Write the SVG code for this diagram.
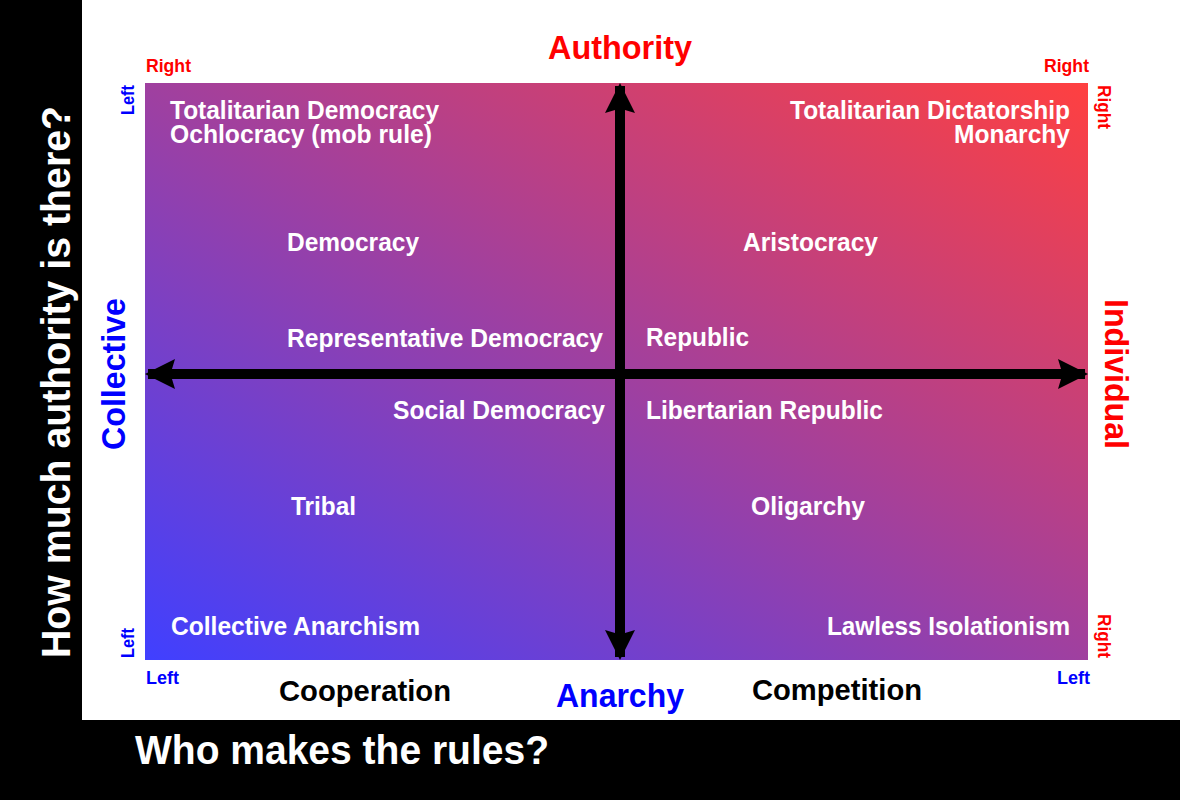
<svg xmlns="http://www.w3.org/2000/svg" width="1180" height="800" viewBox="0 0 1180 800">
<defs>
<linearGradient id="g" x1="0" y1="1" x2="1" y2="0">
<stop offset="0" stop-color="#4040ff"/><stop offset="1" stop-color="#ff4040"/>
</linearGradient>
<marker id="ah" viewBox="0 0 10 10" refX="9" refY="5" markerWidth="3" markerHeight="3.4" orient="auto-start-reverse" markerUnits="strokeWidth">
<path d="M0,0 L10,5 L0,10 L1.5,5 Z" fill="#000"/></marker>
<style>
text{font-family:"Liberation Sans",Arial,sans-serif;font-weight:bold}
.w{fill:#fff;font-size:26px}
.s{font-size:18px}
.r{fill:#f00}.b{fill:#00f}
</style>
</defs>
<rect width="1180" height="800" fill="#000"/>
<rect x="82" y="0" width="1098" height="720" fill="#fff"/>
<rect id="field" x="145" y="83" width="943" height="577" fill="url(#g)"/>
<g id="connectors" stroke="#000" stroke-width="10" fill="none">
<line x1="620" y1="86" x2="620" y2="657" marker-start="url(#ah)" marker-end="url(#ah)"/>
<line x1="148" y1="374" x2="1085" y2="374" marker-start="url(#ah)" marker-end="url(#ah)"/>
</g>
<g id="labels">
<text class="w" x="170" y="119" textLength="269" lengthAdjust="spacingAndGlyphs">Totalitarian Democracy</text>
<text class="w" x="170" y="143" textLength="262" lengthAdjust="spacingAndGlyphs">Ochlocracy (mob rule)</text>
<text class="w" x="1070" y="119" text-anchor="end" textLength="280" lengthAdjust="spacingAndGlyphs">Totalitarian Dictatorship</text>
<text class="w" x="1070" y="143" text-anchor="end" textLength="116" lengthAdjust="spacingAndGlyphs">Monarchy</text>
<text class="w" x="287" y="251" textLength="132" lengthAdjust="spacingAndGlyphs">Democracy</text>
<text class="w" x="743" y="251" textLength="135" lengthAdjust="spacingAndGlyphs">Aristocracy</text>
<text class="w" x="287" y="347" textLength="316" lengthAdjust="spacingAndGlyphs">Representative Democracy</text>
<text class="w" x="646" y="346" textLength="103" lengthAdjust="spacingAndGlyphs">Republic</text>
<text class="w" x="393" y="419" textLength="212" lengthAdjust="spacingAndGlyphs">Social Democracy</text>
<text class="w" x="646" y="419" textLength="237" lengthAdjust="spacingAndGlyphs">Libertarian Republic</text>
<text class="w" x="291" y="515" textLength="65" lengthAdjust="spacingAndGlyphs">Tribal</text>
<text class="w" x="751" y="515" textLength="114" lengthAdjust="spacingAndGlyphs">Oligarchy</text>
<text class="w" x="171" y="635" textLength="249" lengthAdjust="spacingAndGlyphs">Collective Anarchism</text>
<text class="w" x="1070" y="635" text-anchor="end" textLength="243" lengthAdjust="spacingAndGlyphs">Lawless Isolationism</text>
</g>
<g id="axes">
<text class="r" x="620" y="59" font-size="34" text-anchor="middle" textLength="144" lengthAdjust="spacingAndGlyphs">Authority</text>
<text class="b" x="620" y="707" font-size="34" text-anchor="middle" textLength="128" lengthAdjust="spacingAndGlyphs">Anarchy</text>
<text x="365" y="701" font-size="30" text-anchor="middle" textLength="172" lengthAdjust="spacingAndGlyphs">Cooperation</text>
<text x="837" y="700" font-size="30" text-anchor="middle" textLength="170" lengthAdjust="spacingAndGlyphs">Competition</text>
<text fill="#fff" x="135" y="764" font-size="40" textLength="414" lengthAdjust="spacingAndGlyphs">Who makes the rules?</text>
<text fill="#fff" font-size="40" transform="translate(70,382) rotate(-90)" text-anchor="middle" textLength="552" lengthAdjust="spacingAndGlyphs">How much authority is there?</text>
<text class="b" font-size="34" transform="translate(125,374) rotate(-90)" text-anchor="middle" textLength="152" lengthAdjust="spacingAndGlyphs">Collective</text>
<text class="r" font-size="34" transform="translate(1105,374) rotate(90)" text-anchor="middle" textLength="150" lengthAdjust="spacingAndGlyphs">Individual</text>
</g>
<g id="corners">
<text class="r s" x="146" y="72" textLength="45" lengthAdjust="spacingAndGlyphs">Right</text>
<text class="r s" x="1089" y="72" text-anchor="end" textLength="45" lengthAdjust="spacingAndGlyphs">Right</text>
<text class="b s" x="146" y="684" textLength="33" lengthAdjust="spacingAndGlyphs">Left</text>
<text class="b s" x="1090" y="684" text-anchor="end" textLength="33" lengthAdjust="spacingAndGlyphs">Left</text>
<text class="b s" transform="translate(134,100) rotate(-90)" text-anchor="middle" textLength="30" lengthAdjust="spacingAndGlyphs">Left</text>
<text class="b s" transform="translate(134,643) rotate(-90)" text-anchor="middle" textLength="30" lengthAdjust="spacingAndGlyphs">Left</text>
<text class="r s" transform="translate(1098,107) rotate(90)" text-anchor="middle" textLength="44" lengthAdjust="spacingAndGlyphs">Right</text>
<text class="r s" transform="translate(1098,636) rotate(90)" text-anchor="middle" textLength="44" lengthAdjust="spacingAndGlyphs">Right</text>
</g>
</svg>
